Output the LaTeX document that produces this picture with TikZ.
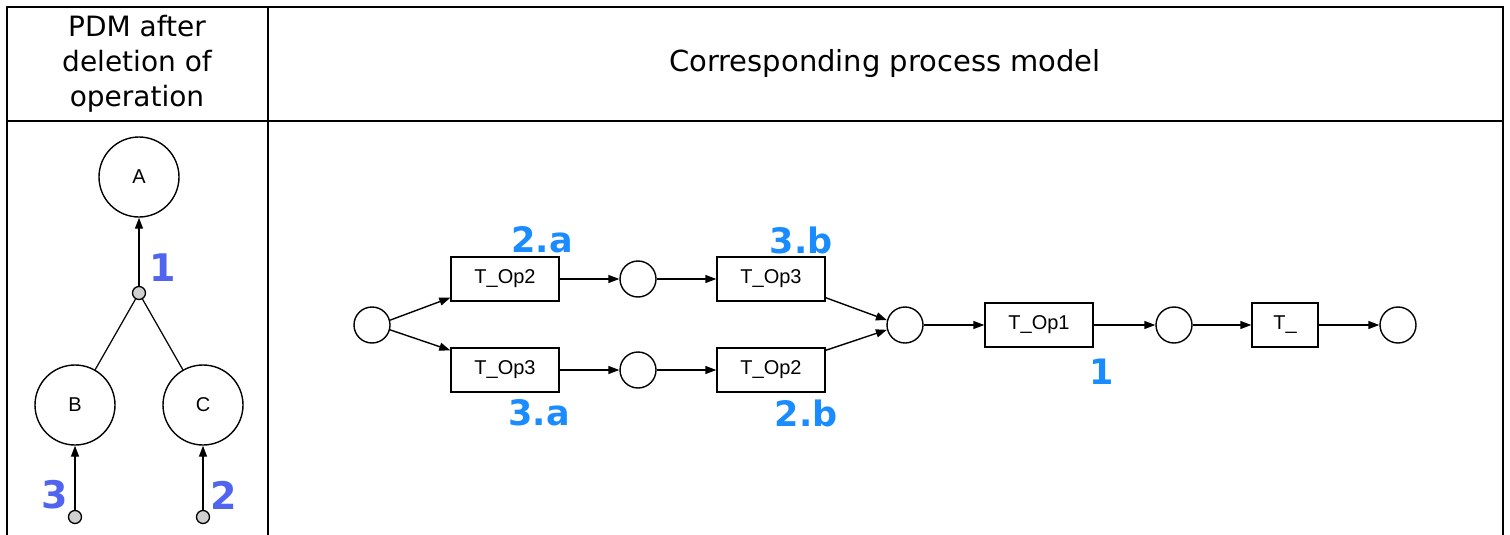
\documentclass[tikz,border=0pt]{standalone}
\usepackage{fontspec}
\setmainfont{DejaVu Sans}
\newfontfamily\arialf{Liberation Sans}
\usetikzlibrary{arrows.meta}
\definecolor{lblue}{HTML}{1A8CFF}
\definecolor{pblue}{HTML}{5064F0}
\definecolor{jgray}{HTML}{D0D0D0}
\begin{document}
\begin{tikzpicture}[x=1pt,y=-1pt,
 frame/.style={line width=2.2pt},
 place/.style={draw, circle, minimum size=36pt, inner sep=0pt, line width=1.4pt},
 trans/.style={draw, rectangle, minimum width=108pt, minimum height=44pt, inner sep=0pt, line width=1.4pt, font=\arialf\fontsize{20}{24}\selectfont},
 pdm/.style={draw, circle, minimum size=80pt, inner sep=0pt, line width=1.4pt, font=\arialf\fontsize{20}{22}\selectfont},
 junc/.style={draw, circle, fill=jgray, minimum size=13pt, inner sep=0pt, line width=1.3pt},
 arc/.style={line width=1.4pt, -{Triangle[length=11pt,width=8pt]}},
 plain/.style={line width=1.2pt},
 rlab/.style={text=lblue, font=\bfseries\fontsize{35}{40}\selectfont, inner sep=0pt},
 llab/.style={text=pblue, font=\bfseries\fontsize{38}{42}\selectfont, inner sep=0pt},
 head/.style={font=\fontsize{28}{35}\selectfont, align=center, inner sep=0pt}
]
\useasboundingbox (0,0) rectangle (1510,535);
% table
\draw[frame] (7,535) -- (7,7) -- (1503,7) -- (1503,535);
\draw[frame] (268,7) -- (268,535);
\draw[frame] (7,121) -- (1503,121);
\node[head] (h1) at (137,64) {PDM after\\deletion of\\operation};
\node[head, font=\fontsize{29}{35}\selectfont] (h2) at (885,64) {Corresponding process model};
% PDM
\node[pdm] (A) at (139,177) {A};
\node[pdm] (B) at (75,405) {B};
\node[pdm] (C) at (203,405) {C};
\node[junc] (j1) at (139,293) {};
\node[junc] (j3) at (75,517) {};
\node[junc] (j2) at (203,517) {};
\draw[arc] (j1) -- (A);
\draw[plain] (j1) -- (B);
\draw[plain] (j1) -- (C);
\draw[arc] (j3) -- (B);
\draw[arc] (j2) -- (C);
\node[llab] (l1) at (163,268) {1};
\node[llab] (l3) at (55,495) {3};
\node[llab] (l2) at (224,495) {2};
% process model
\node[place] (s) at (372,325) {};
\node[trans] (t1) at (505,279) {T\_Op2};
\node[trans] (t2) at (505,370) {T\_Op3};
\node[place] (p1) at (638,279) {};
\node[place] (p2) at (638,370) {};
\node[trans] (t3) at (771,279) {T\_Op3};
\node[trans] (t4) at (771,370) {T\_Op2};
\node[place] (m) at (905,325) {};
\node[trans] (t5) at (1039,325) {T\_Op1};
\node[place] (p3) at (1174,325) {};
\node[trans, minimum width=66pt] (t6) at (1285,325) {T\_};
\node[place] (e) at (1398,325) {};
\draw[arc] (s.15) -- ([yshift=4pt]t1.south west);
\draw[arc] (s.-15) -- ([yshift=-3pt]t2.north west);
\draw[arc] (t1) -- (p1);
\draw[arc] (p1) -- (t3);
\draw[arc] (t2) -- (p2);
\draw[arc] (p2) -- (t4);
\draw[arc] ([yshift=4pt]t3.south east) -- (m.165);
\draw[arc] ([yshift=-3pt]t4.north east) -- (m.195);
\draw[arc] (m) -- (t5);
\draw[arc] (t5) -- (p3);
\draw[arc] (p3) -- (t6);
\draw[arc] (t6) -- (e);
\node[rlab] (r2a) at (542,240) {2.a};
\node[rlab] (r3b) at (801,240) {3.b};
\node[rlab] (r3a) at (539,413) {3.a};
\node[rlab] (r2b) at (806,413) {2.b};
\node[rlab] (r1) at (1102,372) {1};
\end{tikzpicture}
\end{document}
